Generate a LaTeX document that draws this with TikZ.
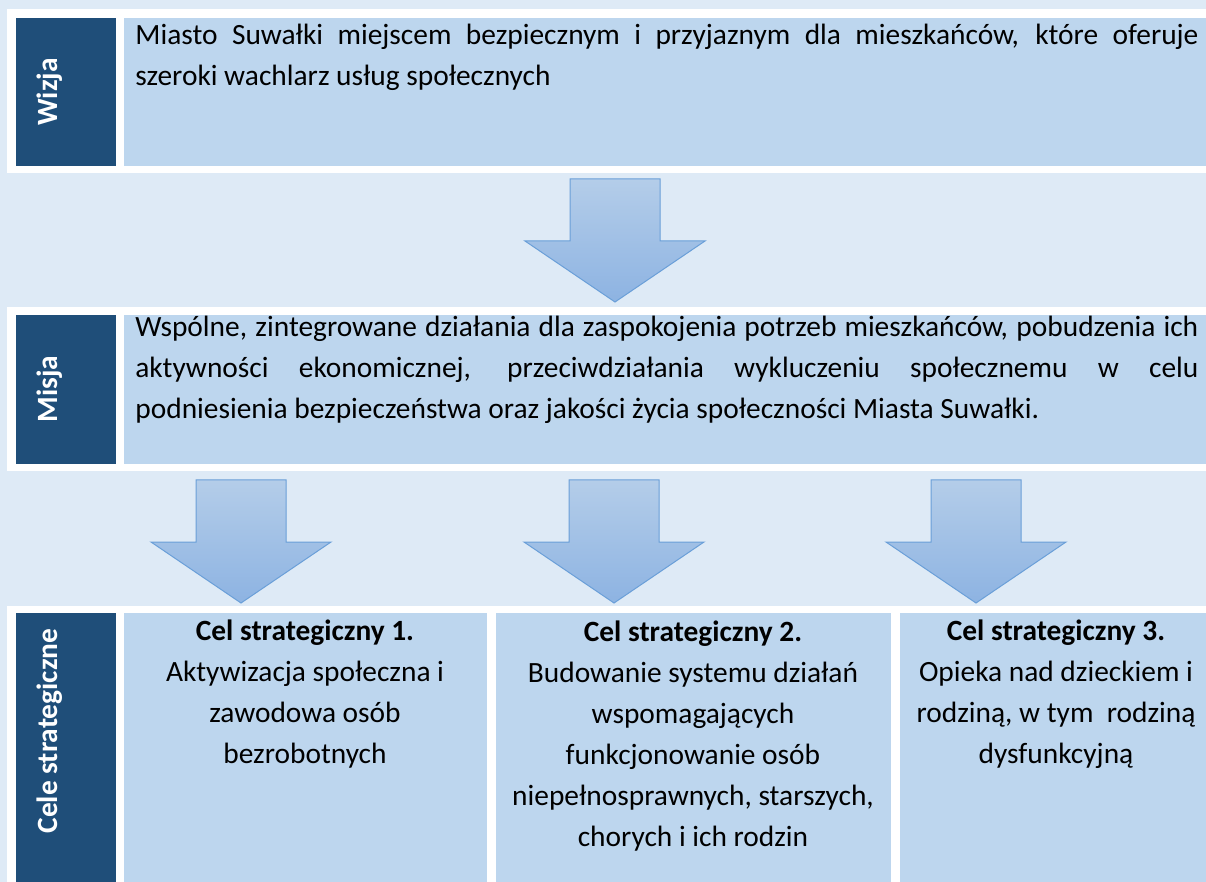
\documentclass[tikz,border=0pt]{standalone}
\usepackage{fontspec}
\setmainfont{Carlito}
\usetikzlibrary{positioning}
\definecolor{pagebg}{HTML}{DEEAF6}
\definecolor{labelblue}{HTML}{1F4E79}
\definecolor{cellblue}{HTML}{BDD6EE}
\definecolor{arrowtop}{HTML}{B4CDE9}
\definecolor{arrowbot}{HTML}{8DB3E2}
\definecolor{arrowline}{HTML}{6A9FD8}
\newcommand\docfont{\fontsize{14.7pt}{20.5pt}\selectfont}
\hyphenpenalty=10000
\exhyphenpenalty=10000

\tikzset{
  rowlabel/.style={rotate=90, anchor=base, inner sep=0pt, text=white, font=\docfont\bfseries},
  celltext/.style={anchor=base west, inner sep=0pt, text width=531.5pt, align=justify, font=\docfont},
  goaltext/.style={anchor=base, inner sep=0pt, align=flush center, font=\docfont},
  blockarrow/.style={top color=arrowtop, bottom color=arrowbot, draw=arrowline, line width=0.5pt}
}
% block arrow: #1 = centre x, #2 = top y
\newcommand\downarrowat[2]{%
  \draw[blockarrow] (#1-45,#2) -- (#1+45,#2) -- (#1+45,#2+62) -- (#1+90,#2+62)
    -- (#1,#2+123) -- (#1-90,#2+62) -- (#1-45,#2+62) -- cycle;}

\begin{document}
\begin{tikzpicture}[x=0.5pt, y=-0.5pt]
  \useasboundingbox (0,0) rectangle (1206,882);
  \fill[pagebg] (0,0) rectangle (1206,882);
  % row 1 : vision
  \fill[white] (7,9) rectangle (1206,173);
  \fill[labelblue] (16,18) rectangle (116,166);
  \fill[cellblue] (124,18) rectangle (1206,166);
  \node[rowlabel] (wizja) at (57,92) {Wizja};
  \node[celltext] (wizjatext) at (135,45)
    {Miasto Suwałki miejscem bezpiecznym i przyjaznym dla mieszkańców, które oferuje\linebreak
     szeroki wachlarz usług społecznych};
  \downarrowat{615}{179}
  % row 2 : mission
  \fill[white] (7,307) rectangle (1206,471);
  \fill[labelblue] (16,315) rectangle (116,464);
  \fill[cellblue] (124,315) rectangle (1206,464);
  \node[rowlabel] (misja) at (57,389) {Misja};
  \node[celltext] (misjatext) at (135,337)
    {Wspólne, zintegrowane działania dla zaspokojenia potrzeb mieszkańców, pobudzenia ich\linebreak
     aktywności ekonomicznej, przeciwdziałania wykluczeniu społecznemu w celu\linebreak
     podniesienia bezpieczeństwa oraz jakości życia społeczności Miasta Suwałki.};
  \foreach \cx in {241,614,976}
    \downarrowat{\cx}{480}
  % row 3 : strategic goals
  \fill[white] (7,606) rectangle (1206,882);
  \fill[labelblue] (16,613) rectangle (116,882);
  \fill[cellblue] (124,613) rectangle (487,882);
  \fill[cellblue] (496,613) rectangle (891,882);
  \fill[cellblue] (900,613) rectangle (1206,882);
  \node[rowlabel] (cele) at (57,731) {Cele strategiczne};
  \node[goaltext, text width=170pt] (cel1) at (305,640)
    {\textbf{Cel strategiczny 1.}\\Aktywizacja społeczna i\\zawodowa osób\\bezrobotnych};
  \node[goaltext, text width=190pt] (cel2) at (693,641)
    {\textbf{Cel strategiczny 2.}\\Budowanie systemu działań\\wspomagających\\funkcjonowanie osób\\niepełnosprawnych, starszych,\\chorych i ich rodzin};
  \node[goaltext, text width=150pt] (cel3) at (1056,640)
    {\textbf{Cel strategiczny 3.}\\Opieka nad dzieckiem i\\rodziną, w tym~ rodziną\\dysfunkcyjną};
\end{tikzpicture}
\end{document}
